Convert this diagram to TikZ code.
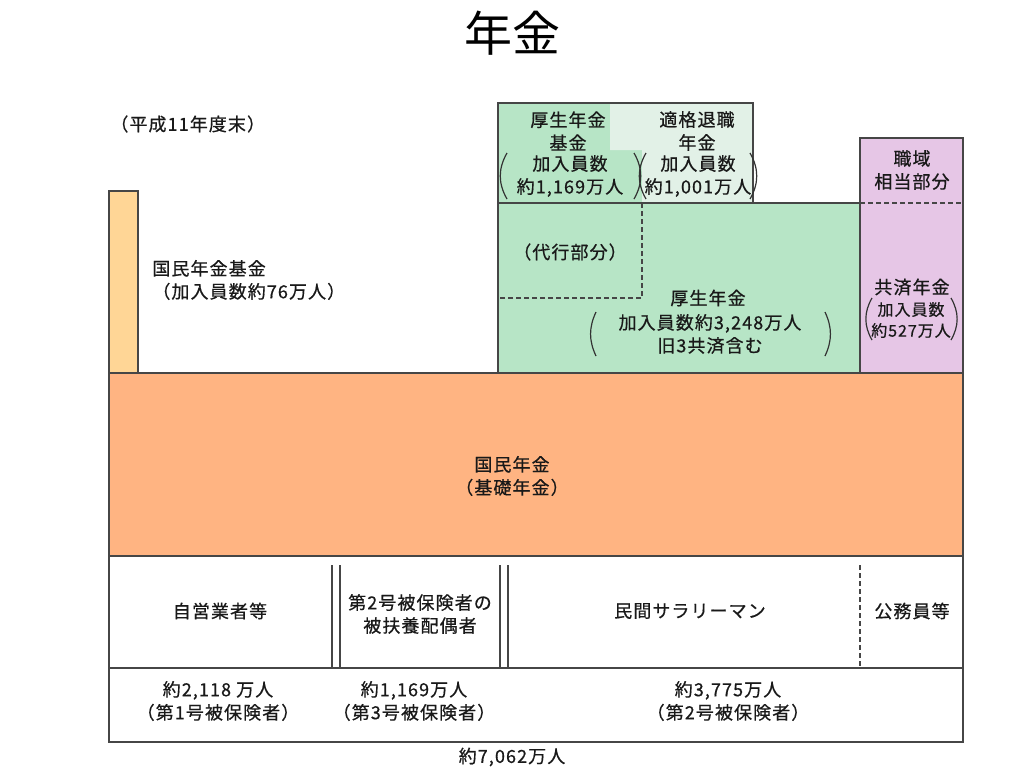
\documentclass[tikz,border=0pt]{standalone}
\usepackage{fontspec}
\usepackage{xcolor}
\newfontfamily\jp[LetterSpace=6,FakeBold=0.6]{Noto Sans CJK JP}
\newfontfamily\jptitle{Noto Sans CJK JP}
\usetikzlibrary{
    positioning
}

\definecolor{kisoorange}{RGB}{255,180,130}
\definecolor{kikinorange}{RGB}{255,214,150}
\definecolor{koseigreen}{RGB}{183,229,198}
\definecolor{tekipale}{RGB}{226,241,231}
\definecolor{kyosaipink}{RGB}{230,198,230}
\definecolor{frameline}{RGB}{70,70,70}

\begin{document}
\begin{tikzpicture}[
    x=0.5pt,
    y=-0.5pt,
    font=\jp\fontsize{9}{11.5}\selectfont,
    frame/.style={
        draw=frameline,
        line width=0.7pt
    },
    divider/.style={
        draw=frameline,
        line width=0.6pt,
        dash pattern=on 2.5pt off 1.5pt
    },
    paren/.style={
        draw=black!80,
        line width=0.6pt
    },
    lbl/.style={
        align=center,
        inner sep=0pt,
        text=black!90
    }
]
\useasboundingbox (0,0) rectangle (1024,768);

% =========================================================
% Coloured blocks
% =========================================================
\fill[kikinorange] (109,191) rectangle (138,373);
\fill[koseigreen] (498,203) rectangle (860,373);
\fill[kyosaipink] (860,138) rectangle (963,373);
\fill[kisoorange] (109,373) rectangle (963,556);

\fill[koseigreen] (498,103) -- (610,103) -- (610,150) -- (642,150)
    -- (642,203) -- (498,203) -- cycle;
\fill[tekipale] (610,103) -- (753,103) -- (753,203) -- (642,203)
    -- (642,150) -- (610,150) -- cycle;

% =========================================================
% Frame lines
% =========================================================
\draw[frame] (109,191) rectangle (138,373);
\draw[frame] (109,373) rectangle (963,556);
\draw[frame] (498,203) rectangle (860,373);
\draw[frame] (860,138) rectangle (963,373);
\draw[frame] (498,203) -- (498,103) -- (753,103) -- (753,203);

\draw[frame] (109,556) rectangle (963,742);
\draw[frame] (109,668) -- (963,668);
\draw[frame] (332,565) -- (332,668);
\draw[frame] (340,565) -- (340,668);
\draw[frame] (500,565) -- (500,668);
\draw[frame] (508,565) -- (508,668);

\draw[divider] (860,203) -- (963,203);
\draw[divider] (642,203) -- (642,298) -- (498,298);
\draw[divider] (860,565) -- (860,668);

% =========================================================
% Title and note
% =========================================================
\node[lbl, font=\jptitle\fontsize{24}{28}\selectfont, text=black] (title) at (512,33) {年金};
\node[lbl, anchor=west] (year) at (110,124) {（平成11年度末）};

% =========================================================
% Upper tier
% =========================================================
\node[lbl, anchor=west, align=left] (kikin) at (152,280) {国民年金基金\\（加入員数約76万人）};

\node[lbl] (koseikikin) at (568,131) {厚生年金\\基金};
\node[lbl] (koseikikinnum) at (570,176) {加入員数\\約1,169万人};
\node[lbl] (tekikaku) at (697,131) {適格退職\\年金};
\node[lbl] (tekikakunum) at (698,176) {加入員数\\約1,001万人};

\node[lbl] (shokuiki) at (912,170) {職域\\相当部分};
\node[lbl] (daiko) at (570,252) {（代行部分）};

\node[lbl] (kosei) at (708,298) {厚生年金};
\node[lbl] (koseinum) at (710,334) {加入員数約3,248万人\\旧3共済含む};

\node[lbl] (kyosai) at (912,287) {共済年金};
\node[lbl, font=\jp\fontsize{8}{10.5}\selectfont] (kyosainum) at (911,320) {加入員数\\約527万人};

\draw[paren] (507,153) to[bend right=30] (507,199);
\draw[paren] (634,153) to[bend left=30] (634,199);
\draw[paren] (646,153) to[bend right=30] (646,199);
\draw[paren] (750,153) to[bend left=30] (750,199);
\draw[paren] (596,312) to[bend right=25] (596,356);
\draw[paren] (825,312) to[bend left=25] (825,356);
\draw[paren] (872,298) to[bend right=30] (872,340);
\draw[paren] (951,298) to[bend left=30] (951,340);

% =========================================================
% Basic pension
% =========================================================
\node[lbl] (kiso) at (512,476) {国民年金\\（基礎年金）};

% =========================================================
% Insured groups
% =========================================================
\node[lbl] (jiei) at (220,611) {自営業者等};
\node[lbl] (haigu) at (420,614) {第2号被保険者の\\被扶養配偶者};
\node[lbl] (salary) at (690,611) {民間サラリーマン};
\node[lbl] (komuin) at (912,611) {公務員等};

\node[lbl] (first) at (218,701) {約2,118 万人\\（第1号被保険者）};
\node[lbl] (third) at (414,701) {約1,169万人\\（第3号被保険者）};
\node[lbl] (second) at (728,701) {約3,775万人\\（第2号被保険者）};

\node[lbl] (total) at (512,757) {約7,062万人};

\end{tikzpicture}
\end{document}
